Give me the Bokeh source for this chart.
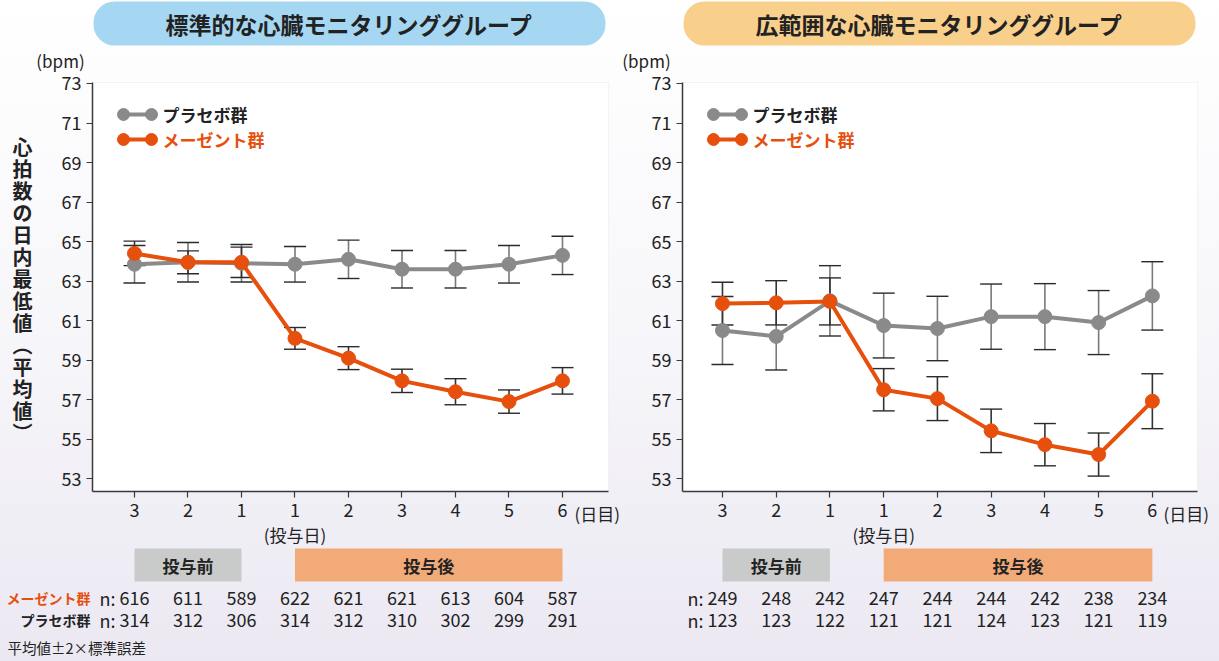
from bokeh.plotting import figure
from bokeh.models import (Range1d, FixedTicker, Whisker, TeeHead, ColumnDataSource,
                          Label, BoxAnnotation)
from bokeh.layouts import row
from bokeh.embed import file_html
from bokeh.resources import INLINE

# ---- data -------------------------------------------------------------
day_labels = ["3", "2", "1", "1", "2", "3", "4", "5", "6"]
day_index = list(range(9))

# standard cardiac monitoring group (mean, 2*SE)
std_placebo_mean = [63.85, 63.95, 63.9, 63.85, 64.1, 63.6, 63.6, 63.85, 64.3]
std_placebo_err = [0.95, 1.0, 0.95, 0.9, 0.97, 0.95, 0.95, 0.95, 0.97]
std_mayzent_mean = [64.4, 63.95, 63.95, 60.1, 59.1, 57.95, 57.4, 56.9, 57.95]
std_mayzent_err = [0.62, 0.58, 0.77, 0.55, 0.58, 0.59, 0.66, 0.59, 0.67]
std_n_mayzent = [616, 611, 589, 622, 621, 621, 613, 604, 587]
std_n_placebo = [314, 312, 306, 314, 312, 310, 302, 299, 291]

# extended cardiac monitoring group (mean, 2*SE)
ext_placebo_mean = [60.5, 60.2, 62.0, 60.75, 60.6, 61.2, 61.2, 60.9, 62.25]
ext_placebo_err = [1.72, 1.7, 1.78, 1.64, 1.63, 1.65, 1.67, 1.62, 1.73]
ext_mayzent_mean = [61.86, 61.9, 61.97, 57.5, 57.05, 55.42, 54.72, 54.22, 56.92]
ext_mayzent_err = [1.08, 1.12, 1.19, 1.07, 1.11, 1.1, 1.07, 1.09, 1.39]
ext_n_mayzent = [249, 248, 242, 247, 244, 244, 242, 238, 234]
ext_n_placebo = [123, 123, 122, 121, 121, 124, 123, 121, 119]

y_ticks = list(range(53, 74, 2))

# ---- styling ----------------------------------------------------------
FONT = "Noto Sans CJK JP"
GRAY = "#8a8a8a"
ORANGE = "#e6500c"
INK = "#222222"
AXIS = "#3a3a3a"
CAP = "#2b2b2b"

PAGE_H = 661
PLOT_TOP = 82          # px from the top of the page
PLOT_H = 409
Y_LO, Y_HI = 52.35, 73.05
PPU_Y = PLOT_H / (Y_HI - Y_LO)


def ydata(py):
    return Y_HI - (py - PLOT_TOP) / PPU_Y


def make_panel(cfg):
    # the figure spans its whole page slice; the plotting box sits inside it
    ppu_x = cfg["plot_w"] / (cfg["x_hi"] - cfg["x_lo"])

    def xdata(px):
        return cfg["x_lo"] + (px - cfg["plot_left"]) / ppu_x

    width = cfg["page_right"] - cfg["page_left"]
    p = figure(width=width, height=PAGE_H, min_border=0,
               x_range=Range1d(xdata(cfg["page_left"]), xdata(cfg["page_right"])),
               y_range=Range1d(ydata(PAGE_H), ydata(0)),
               output_backend="svg", toolbar_location=None)
    p.grid.visible = False
    p.background_fill_alpha = 0
    p.border_fill_alpha = 0
    p.outline_line_color = None

    # white plotting box
    p.add_layout(BoxAnnotation(left=cfg["x_lo"], right=cfg["x_hi"], bottom=Y_LO, top=Y_HI,
                               fill_color="white", fill_alpha=1,
                               line_color="#dedede", line_width=1, level="image"))

    xa, ya = p.xaxis[0], p.yaxis[0]
    xa.fixed_location = Y_LO
    xa.bounds = (cfg["x_lo"], cfg["x_hi"])
    xa.ticker = FixedTicker(ticks=day_index)
    xa.major_label_overrides = {i: d for i, d in enumerate(day_labels)}
    ya.fixed_location = cfg["x_lo"]
    ya.bounds = (Y_LO, Y_HI)
    ya.ticker = FixedTicker(ticks=y_ticks)
    for ax in (xa, ya):
        ax.major_tick_in = 0
        ax.major_tick_out = 6
        ax.minor_tick_line_color = None
        ax.axis_line_color = AXIS
        ax.axis_line_width = 1.5
        ax.major_tick_line_color = AXIS
        ax.major_tick_line_width = 1.2
        ax.major_label_text_font = FONT
        ax.major_label_text_font_size = "18px"
        ax.major_label_text_color = INK
        ax.major_label_standoff = 5

    # title pill
    p.add_layout(BoxAnnotation(left=xdata(cfg["pill"][0]), right=xdata(cfg["pill"][1]),
                               top=ydata(1), bottom=ydata(45),
                               fill_color=cfg["pill_color"], fill_alpha=1,
                               line_color=None, border_radius=21))
    p.add_layout(Label(x=xdata((cfg["pill"][0] + cfg["pill"][1]) / 2), y=ydata(23),
                       text=cfg["title"], text_align="center", text_baseline="middle",
                       text_font=FONT, text_font_style="bold",
                       text_font_size="23px", text_color=INK))
    p.add_layout(Label(x=xdata(cfg["bpm_x"]), y=ydata(60), text="(bpm)",
                       text_align="center", text_baseline="middle",
                       text_font=FONT, text_font_size="17px", text_color=INK))

    # series: whiskers, lines, markers
    for mean, err, color, stem in ((cfg["placebo"][0], cfg["placebo"][1], GRAY, "#7a7a7a"),
                                   (cfg["mayzent"][0], cfg["mayzent"][1], ORANGE, "#333333")):
        src = ColumnDataSource(dict(
            x=day_index, m=mean,
            up=[m + e for m, e in zip(mean, err)],
            lo=[m - e for m, e in zip(mean, err)]))
        p.add_layout(Whisker(source=src, base="x", upper="up", lower="lo",
                             level="underlay", line_color=stem, line_width=1.6,
                             upper_head=TeeHead(size=22, line_color=CAP, line_width=1.4),
                             lower_head=TeeHead(size=22, line_color=CAP, line_width=1.4)))
        p.line("x", "m", source=src, line_color=color, line_width=4)
        p.scatter("x", "m", source=src, size=14, fill_color=color, line_color=color)

    # legend
    lx = cfg["legend_x"]
    for py, name, color, tcolor in ((114, "プラセボ群", GRAY, INK),
                                    (139, "メーゼント群", ORANGE, ORANGE)):
        kx = [xdata(lx), xdata(lx + 28)]
        ky = [ydata(py), ydata(py)]
        p.line(kx, ky, line_color=color, line_width=4)
        p.scatter(kx, ky, size=12, fill_color=color, line_color=color)
        p.add_layout(Label(x=xdata(lx + 39), y=ydata(py), text=name,
                           text_align="left", text_baseline="middle",
                           text_font=FONT, text_font_style="bold",
                           text_font_size="17px", text_color=tcolor))

    # x-axis annotations
    p.add_layout(Label(x=xdata(cfg["plot_left"] + cfg["plot_w"] - 34), y=ydata(513),
                       text="(日目)", text_align="left", text_baseline="middle",
                       text_font=FONT, text_font_size="17px", text_color=INK))
    p.add_layout(Label(x=3, y=ydata(534), text="(投与日)",
                       text_align="center", text_baseline="middle",
                       text_font=FONT, text_font_size="17px", text_color=INK))

    # pre / post dosing bands
    p.add_layout(BoxAnnotation(left=0, right=2, top=ydata(548), bottom=ydata(581),
                               fill_color="#c9cbca", fill_alpha=1, line_color=None))
    p.add_layout(BoxAnnotation(left=3, right=8, top=ydata(548), bottom=ydata(581),
                               fill_color="#f2ab78", fill_alpha=1, line_color=None))
    for xc, txt in ((1, "投与前"), (5.5, "投与後")):
        p.add_layout(Label(x=xc, y=ydata(565), text=txt, text_align="center",
                           text_baseline="middle", text_font=FONT,
                           text_font_style="bold", text_font_size="17px",
                           text_color=INK))

    # patient counts
    for py, counts in ((597, cfg["n_mayzent"]), (619, cfg["n_placebo"])):
        p.add_layout(Label(x=xdata(cfg["first_tick"] - 19), y=ydata(py), text="n:",
                           text_align="right", text_baseline="middle",
                           text_font=FONT, text_font_size="18px", text_color=INK))
        for i, n in enumerate(counts):
            p.add_layout(Label(x=i, y=ydata(py), text=str(n), text_align="center",
                               text_baseline="middle", text_font=FONT,
                               text_font_size="18px", text_color=INK))
    return p, xdata


left_cfg = dict(page_left=0, page_right=622, plot_left=92, plot_w=516,
                x_lo=-0.785, x_hi=8.86, pill=(93, 605), pill_color="#a5d7f3",
                title="標準的な心臓モニタリンググループ", bpm_x=60, legend_x=123,
                first_tick=134,
                placebo=(std_placebo_mean, std_placebo_err),
                mayzent=(std_mayzent_mean, std_mayzent_err),
                n_mayzent=std_n_mayzent, n_placebo=std_n_placebo)
right_cfg = dict(page_left=622, page_right=1219, plot_left=682, plot_w=515,
                 x_lo=-0.744, x_hi=8.84, pill=(683, 1195), pill_color="#f9cf8c",
                 title="広範囲な心臓モニタリンググループ", bpm_x=646, legend_x=713,
                 first_tick=722,
                 placebo=(ext_placebo_mean, ext_placebo_err),
                 mayzent=(ext_mayzent_mean, ext_mayzent_err),
                 n_mayzent=ext_n_mayzent, n_placebo=ext_n_placebo)

p_left, xl = make_panel(left_cfg)
p_right, xr = make_panel(right_cfg)

# left-side extras: vertical axis title, group names, footnote
y_title = "心拍数の日内最低値︵平均値︶"
for i, ch in enumerate(y_title):
    p_left.add_layout(Label(x=xl(22), y=ydata(146 + 22 * i), text=ch,
                            text_align="center", text_baseline="middle",
                            text_font=FONT, text_font_style="bold",
                            text_font_size="20px", text_color=INK))
for py, name, color in ((597, "メーゼント群", ORANGE), (619, "プラセボ群", INK)):
    p_left.add_layout(Label(x=xl(90), y=ydata(py), text=name, text_align="right",
                            text_baseline="middle", text_font=FONT,
                            text_font_style="bold", text_font_size="14px",
                            text_color=color))
p_left.add_layout(Label(x=xl(7), y=ydata(647), text="平均値±2×標準誤差",
                        text_align="left", text_baseline="middle", text_font=FONT,
                        text_font_size="14.5px", text_color=INK))

layout = row(p_left, p_right, spacing=0,
             styles={"background": "linear-gradient(180deg, #ffffff 0%, #f6f5f9 55%, #ebe8f2 100%)"})

open("out.html", "w").write(file_html(layout, INLINE))
